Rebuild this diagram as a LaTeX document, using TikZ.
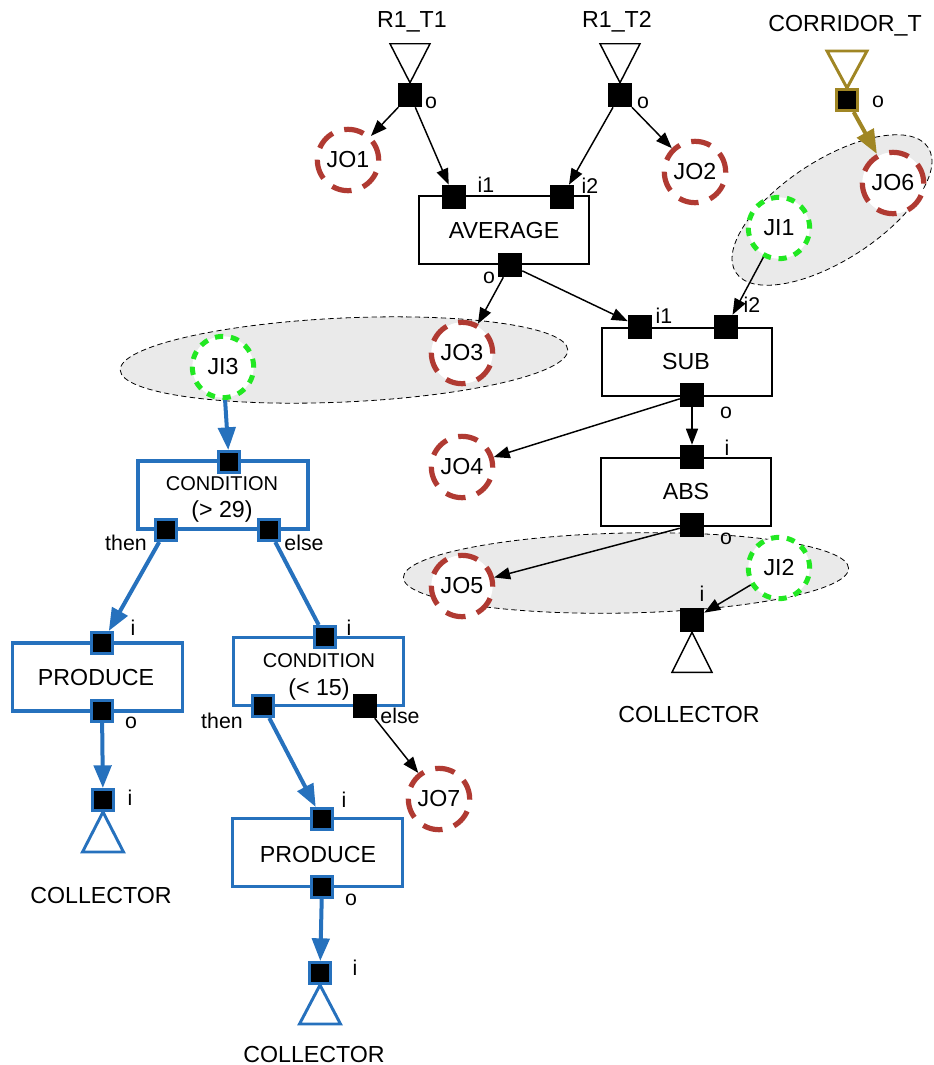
\documentclass[tikz,border=0pt]{standalone}
\usepackage{fontspec}
\setmainfont{Liberation Sans}
\usetikzlibrary{arrows.meta,shapes.geometric}
\definecolor{flowblue}{RGB}{38,113,189}
\definecolor{jred}{RGB}{176,58,50}
\definecolor{jgreen}{RGB}{34,232,34}
\definecolor{srcolive}{RGB}{160,134,36}
\definecolor{groupgray}{RGB}{234,234,234}
\begin{document}
\begin{tikzpicture}[x=0.75pt,y=-0.75pt,
  txt/.style={font=\fontsize{17.4}{20}\selectfont, anchor=base, inner sep=0pt},
  small/.style={font=\fontsize{16}{19}\selectfont, anchor=base, inner sep=0pt},
  condtxt/.style={font=\fontsize{15}{18}\selectfont, anchor=base, inner sep=0pt},
  port/.style={rectangle, fill=black, minimum size=18pt, inner sep=0pt},
  bport/.style={rectangle, fill=black, draw=flowblue, line width=2.2pt, minimum size=15.8pt, inner sep=0pt},
  oport/.style={bport, draw=srcolive},
  block/.style={rectangle, draw, line width=1.4pt, minimum width=127.5pt, minimum height=51pt, inner sep=0pt},
  bblock/.style={block, draw=flowblue, line width=2.6pt},
  jout/.style={circle, draw=jred, fill=white, line width=3.9pt, dash pattern=on 15pt off 9pt,
    minimum size=46pt, inner sep=0pt, font=\fontsize{17.4}{20}\selectfont},
  jin/.style={jout, draw=jgreen, line width=3.75pt, dash pattern=on 6.2pt off 5.8pt},
  group/.style={ellipse, draw, fill=groupgray, line width=0.6pt, dash pattern=on 4pt off 2.5pt, inner sep=0pt},
  arr/.style={-{Triangle[length=12pt,width=9pt]}, line width=1.1pt},
  barr/.style={-{Triangle[length=17pt,width=13pt]}, line width=3pt, draw=flowblue},
  bline/.style={line width=3pt, draw=flowblue},
  oarr/.style={-{Triangle[length=18pt,width=14pt]}, line width=3pt, draw=srcolive},
  tri/.style={line width=1.1pt},
  btri/.style={line width=2.2pt, draw=flowblue},
  otri/.style={line width=2.2pt, draw=srcolive},
]
\path[use as bounding box] (0,0) rectangle (933,1065);

% grouping ellipses
\node[group, minimum width=336pt, minimum height=63pt, rotate=2.6] (grp1) at (344,360) {};
\node[group, minimum width=334pt, minimum height=60pt, rotate=1.2] (grp2) at (626,573) {};
\node[group, minimum width=172pt, minimum height=75pt, rotate=33] (grp3) at (832,210) {};

% sources
\node[txt] (t1) at (412,27) {R1\_T1};
\node[txt] (t2) at (617,27) {R1\_T2};
\node[txt] (t3) at (845,31) {CORRIDOR\_T};
\node[port] (r1p) at (410,95) {};
\node[port] (r2p) at (620,95) {};
\node[oport] (cp) at (847,100) {};
\node[small] (r1o) at (431,108) {o};
\node[small] (r2o) at (643,108) {o};
\node[small] (cpo) at (878,107) {o};
\draw[tri] (r1p.north) -- ++(-20,-39) -- ++(40,0) -- cycle;
\draw[tri] (r2p.north) -- ++(-20,-39) -- ++(40,0) -- cycle;
\draw[otri] (cp.north) -- ++(-20,-37) -- ++(40,0) -- cycle;

% AVERAGE
\node[block] (avg) at (504,230) {};
\node[txt] (avgt) at (504,238) {AVERAGE};
\node[port] (avi1) at (454,197) {};
\node[port] (avi2) at (562,197) {};
\node[port] (avo) at (510,265) {};
\node[small] (avi1l) at (486,192) {i1};
\node[small] (avi2l) at (590,193) {i2};
\node[small] (avol) at (489,283) {o};

% SUB
\node[block] (sub) at (687,362) {};
\node[txt] (subt) at (686,369) {SUB};
\node[port] (subi1) at (640,327) {};
\node[port] (subi2) at (726,327) {};
\node[port] (subo) at (692,395) {};
\node[small] (subi1l) at (664,323) {i1};
\node[small] (subi2l) at (752,312) {i2};
\node[small] (subol) at (726,418) {o};

% ABS
\node[block] (abs) at (686,492) {};
\node[txt] (abst) at (686,499) {ABS};
\node[port] (absi) at (692,457) {};
\node[port] (abso) at (692,525) {};
\node[small] (absil) at (727,455) {i};
\node[small] (absol) at (726,544) {o};

% right collector
\node[port] (colri) at (692,620) {};
\node[small] (colril) at (702,601) {i};
\node[txt] (colrt) at (689,722) {COLLECTOR};
\draw[tri] (colri.south) -- ++(-20,40) -- ++(40,0) -- cycle;

% joint circles
\node[jout] (jo1) at (348,160) {JO1};
\node[jout] (jo2) at (695,172) {JO2};
\node[jout] (jo3) at (462,353) {JO3};
\node[jout] (jo4) at (462,467) {JO4};
\node[jout] (jo5) at (462,586) {JO5};
\node[jout] (jo6) at (893,183) {JO6};
\node[jout] (jo7) at (439,799) {JO7};
\node[jin] (ji1) at (779,228) {JI1};
\node[jin] (ji2) at (779,568) {JI2};
\node[jin] (ji3) at (223,367) {JI3};

% first condition
\node[bblock] (c1) at (223,495) {};
\node[condtxt] (c1t1) at (222,490) {CONDITION};
\node[txt] (c1t2) at (222,517) {(> 29)};
\node[bport] (c1i) at (229,462) {};
\node[bport] (c1t) at (166,530) {};
\node[bport] (c1e) at (269,530) {};
\node[small] (c1tl) at (126,550) {then};
\node[small] (c1el) at (304,550) {else};

% left produce and collector
\node[bblock] (p1) at (97.5,677) {};
\node[txt] (p1t) at (96,685) {PRODUCE};
\node[bport] (p1i) at (102,643) {};
\node[bport] (p1o) at (102,711) {};
\node[small] (p1il) at (133,635) {i};
\node[small] (p1ol) at (131,728) {o};
\node[bport] (col1i) at (103,800) {};
\node[small] (col1il) at (130,805) {i};
\node[txt] (col1t) at (101,903) {COLLECTOR};
\draw[btri] (col1i.south) -- ++(-20.5,40) -- ++(41,0) -- cycle;

% second condition
\node[bblock] (c2) at (318.5,671.5) {};
\node[condtxt] (c2t1) at (319,667) {CONDITION};
\node[txt] (c2t2) at (319,695) {(< 15)};
\node[bport] (c2i) at (325,637) {};
\node[bport] (c2t) at (263,706) {};
\node[port] (c2e) at (365,706) {};
\node[small] (c2il) at (349,635) {i};
\node[small] (c2tl) at (222,728) {then};
\node[small] (c2el) at (400,723) {else};

% lower produce and collector
\node[bblock] (p2) at (317.5,852.5) {};
\node[txt] (p2t) at (318,862) {PRODUCE};
\node[bport] (p2i) at (322,819) {};
\node[bport] (p2o) at (322,887) {};
\node[small] (p2il) at (344,807) {i};
\node[small] (p2ol) at (351,905) {o};
\node[bport] (col2i) at (320,973) {};
\node[small] (col2il) at (355,975) {i};
\node[txt] (col2t) at (314,1062) {COLLECTOR};
\draw[btri] (col2i.south) -- ++(-20.5,39) -- ++(41,0) -- cycle;

% connectors
\draw[arr] (r1p) -- (jo1);
\draw[arr] (r1p) -- (avi1);
\draw[arr] (r2p) -- (avi2);
\draw[arr] (r2p) -- (jo2);
\draw[oarr] (cp) -- (jo6);
\draw[arr] (avo) -- (jo3);
\draw[arr] (avo) -- (subi1);
\draw[arr] (ji1) -- (subi2);
\draw[arr] (subo) -- (jo4);
\draw[arr] (subo) -- (absi);
\draw[arr] (abso) -- (jo5);
\draw[arr] (ji2) -- (colri);
\draw[barr] (ji3) -- (c1i);
\draw[barr] (c1t) -- (p1i);
\draw[bline] (c1e) -- (c2i);
\draw[barr] (p1o) -- (col1i);
\draw[barr] (c2t) -- (p2i);
\draw[barr] (p2o) -- (col2i);
\draw[arr] (c2e) -- (jo7);
\end{tikzpicture}
\end{document}
